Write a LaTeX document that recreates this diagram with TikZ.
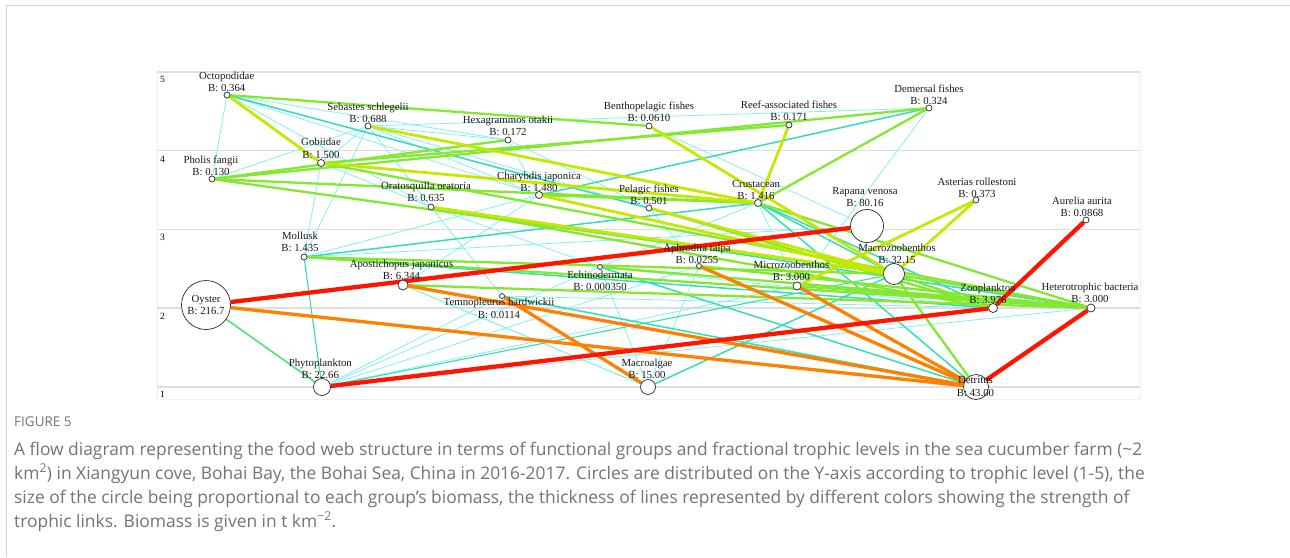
\documentclass[tikz,border=0pt]{standalone}
\usepackage{fontspec}
\setmainfont{Liberation Serif}
\newfontfamily\capfont{Open Sans}
\usetikzlibrary{calc}
\pgfdeclarelayer{bg}
\pgfdeclarelayer{edges}
\pgfsetlayers{bg,edges,main}
\definecolor{cRed}{RGB}{255,20,0}
\definecolor{cOra}{RGB}{255,128,0}
\definecolor{cYg}{RGB}{196,232,0}
\definecolor{cLg}{RGB}{130,232,50}
\definecolor{cGr}{RGB}{70,230,120}
\definecolor{cTl}{RGB}{50,222,180}
\definecolor{cCy}{RGB}{130,240,240}
\definecolor{grid}{RGB}{222,222,222}
\definecolor{capgray}{RGB}{115,115,115}
\newcommand\grplab[6]{% node, dx, dy (baseline of value line), name, value, spacing
  \node[lbl] (#1-n) at ($(#1)+(#2,#3-#6)$) {#4};
  \node[lbl] (#1-v) at ($(#1)+(#2,#3)$) {B: #5};}
\begin{document}
\begin{tikzpicture}[x=1pt,y=-1pt,
  grp/.style={circle,draw=black!85,fill=white,line width=0.7pt,inner sep=0pt,minimum size=#1},
  lbl/.style={font=\fontsize{10.8}{12}\selectfont,anchor=base,inner sep=0pt,text=black!90},
  tick/.style={font=\fontsize{9.5}{10}\selectfont,anchor=base west,inner sep=0pt},
  redl/.style={draw=cRed,line width=4.3pt},
  oral/.style={draw=cOra,line width=3.3pt},
  ygl/.style={draw=cYg,line width=2.8pt},
  lgl/.style={draw=cLg,line width=2.3pt},
  grl/.style={draw=cGr,line width=1.9pt},
  tll/.style={draw=cTl,line width=1.5pt},
  cyl/.style={draw=cCy,line width=0.8pt},
  capt/.style={font=\capfont\fontsize{17.4}{20}\selectfont,text=capgray,anchor=base west,inner sep=0pt}]
\useasboundingbox (0,0) rectangle (1290,557);
% outer card frame
\draw[gray!35,line width=1.3pt] (6.5,557) -- (6.5,5.5) -- (1290,5.5);
% plot frame and grid
\begin{pgfonlayer}{bg}
\draw[gray!12,line width=0.8pt] (157,72) rectangle (1140,399);
\foreach \yy in {72,150.5,229.5,308,387}
  \draw[grid,line width=1.5pt] (157,\yy) -- (1140,\yy);
\end{pgfonlayer}
\node[tick] (t5) at (160,82.5) {5};
\node[tick] (t4) at (160,162.3) {4};
\node[tick] (t3) at (160,240.3) {3};
\node[tick] (t2) at (160,319.5) {2};
\node[tick] (t1) at (160,397.8) {1};
% groups
\node[grp=6pt] (oct) at (227,95) {};
\node[grp=6pt] (seb) at (368,126) {};
\node[grp=6pt] (hex) at (508,140) {};
\node[grp=7pt] (gob) at (321,163) {};
\node[grp=6pt] (pho) at (212,179) {};
\node[grp=6pt] (ora) at (431,207) {};
\node[grp=7pt] (cha) at (539,195) {};
\node[grp=6pt] (ben) at (649,126) {};
\node[grp=6pt] (ree) at (789,125) {};
\node[grp=6pt] (dem) at (929,108) {};
\node[grp=7pt] (cru) at (758,203) {};
\node[grp=6pt] (pel) at (649,208) {};
\node[grp=33pt] (rap) at (867,226) {};
\node[grp=6pt] (ast) at (976,200) {};
\node[grp=6pt] (aur) at (1086,220) {};
\node[grp=21pt] (maz) at (894,274) {};
\node[grp=9pt] (zoo) at (993,308) {};
\node[grp=8pt] (bac) at (1091,308) {};
\node[grp=25pt] (det) at (976,387) {};
\node[grp=6pt] (mol) at (304,257) {};
\node[grp=10pt] (apo) at (403,285) {};
\node[grp=49pt] (oys) at (206,305) {};
\node[grp=5pt] (tem) at (502,296) {};
\node[grp=17pt] (phy) at (322,387) {};
\node[grp=5pt] (ech) at (600,267) {};
\node[grp=5pt] (aph) at (699,266) {};
\node[grp=8pt] (mic) at (797,286) {};
\node[grp=15pt] (alg) at (648,387) {};
% edges
\begin{pgfonlayer}{edges}
\foreach \a/\b in {oct/pho,oct/ora,oct/cha,oct/pel,oct/hex,seb/gob,seb/hex,seb/ora,seb/cha,seb/pel,seb/mol,
  hex/cha,hex/pel,dem/seb,dem/mic,ben/rap,gob/ora,gob/mol,pho/seb,ora/ech,ora/tem,cha/apo,
  cha/mol,pel/aph,cru/mic,cru/ech,phy/ech,phy/aph,phy/tem,phy/mic,phy/bac,
  alg/ech,alg/tem,alg/aph,alg/apo,apo/alg,ech/zoo,tem/zoo,rap/mol,maz/ora}
  \draw[cyl] (\a) -- (\b);
\draw[draw=cTl,line width=1.1pt] (phy) -- (maz);
\draw[draw=cTl,line width=1.1pt] (mol) -- (phy);
\foreach \a/\b in {oct/maz,mol/cru,alg/maz,ech/det,cha/dem,cru/zoo,cru/maz,cru/det,tem/det,mol/zoo,ora/bac}
  \draw[tll] (\a) -- (\b);
\draw[draw=cGr,line width=1.6pt] (oys) -- (phy);
\foreach \a/\b in {oct/ben,pho/dem,gob/ree,pho/hex,pho/cru,pho/maz,cha/cru,mol/maz,mol/bac,ech/bac,
  maz/det,maz/bac,maz/zoo,cru/bac,apo/bac,aph/bac,mic/bac,pel/zoo,gob/bac,ora/zoo,dem/cru}
  \draw[lgl] (\a) -- (\b);
\foreach \a/\b in {oct/gob,seb/cru,gob/cru,ora/maz,ben/maz,ree/cru,ast/mic,ast/maz,pel/maz,cha/maz}
  \draw[ygl] (\a) -- (\b);
\foreach \a/\b in {oys/det,apo/det,tem/alg,aph/det,mic/det}
  \draw[oral] (\a) -- (\b);
\foreach \a/\b in {oys/rap,phy/zoo,det/bac,zoo/aur}
  \draw[redl] (\a) -- (\b);
\end{pgfonlayer}
% labels
\grplab{oct}{-0.3}{-3.4}{Octopodidae}{0.364}{12.2}
\grplab{seb}{0}{-3.4}{Sebastes schlegelii}{0.688}{12.2}
\grplab{hex}{0}{-4.4}{Hexagrammos otakii}{0.172}{12.2}
\grplab{gob}{0}{-5}{Gobiidae}{1.500}{12.2}
\grplab{pho}{-1}{-3.4}{Pholis fangii}{0.130}{12.2}
\grplab{ora}{-5}{-5.4}{Oratosquilla oratoria}{0.635}{12.2}
\grplab{cha}{0}{-3.4}{Charybdis japonica}{1.480}{12.2}
\grplab{ben}{0}{-4.4}{Benthopelagic fishes}{0.0610}{12.2}
\grplab{ree}{0}{-4.4}{Reef-associated fishes}{0.171}{12.2}
\grplab{dem}{0}{-3.4}{Demersal fishes}{0.324}{12.2}
\grplab{cru}{-2}{-3.4}{Crustacean}{1.416}{12.2}
\grplab{pel}{0}{-3.4}{Pelagic fishes}{0.501}{12.2}
\grplab{rap}{-2}{-19.4}{Rapana venosa}{80.16}{12.2}
\grplab{ast}{1}{-2.4}{Asterias rollestoni}{0.373}{12.2}
\grplab{aur}{-4}{-3.4}{Aurelia aurita}{0.0868}{12.2}
\grplab{maz}{3}{-10.4}{Macrozoobenthos}{32.15}{12.2}
\grplab{zoo}{-5}{-4.4}{Zooplankton}{3.976}{12.2}
\grplab{bac}{-1}{-5.4}{Heterotrophic bacteria}{3.000}{12.2}
\grplab{det}{-0.5}{9}{Detritus}{43.00}{12.5}
\grplab{mol}{-4}{-5.7}{Mollusk}{1.435}{12.2}
\grplab{apo}{-1.5}{-5.4}{Apostichopus japonicus}{6.344}{12.2}
\grplab{oys}{0}{9.3}{Oyster}{216.7}{11.8}
\grplab{tem}{-3}{22}{Temnopleurus hardwickii}{0.0114}{13}
\grplab{phy}{-1.7}{-8.7}{Phytoplankton}{22.66}{12.3}
\grplab{ech}{0}{23.6}{Echinodermata}{0.000350}{12.5}
\grplab{aph}{-2}{-2.4}{Aphrodita talpa}{0.0255}{12.3}
\grplab{mic}{-5.5}{-5.7}{Microzoobenthos}{3.000}{12.2}
\grplab{alg}{-1}{-8.3}{Macroalgae}{15.00}{12}
% caption
\node[anchor=base west,inner sep=0pt,font=\capfont\fontsize{13.5}{15}\selectfont,text=capgray] (fig) at (14,426) {FIGURE 5};
\node[capt] (c1) at (14,455) {A flow diagram representing the food web structure in terms of functional groups and fractional trophic levels in the sea cucumber farm (\textasciitilde2};
\node[capt] (c2) at (14,479) {km\textsuperscript{2}) in Xiangyun cove, Bohai Bay, the Bohai Sea, China in 2016-2017. Circles are distributed on the Y-axis according to trophic level (1-5), the};
\node[capt] (c3) at (14,503) {size of the circle being proportional to each group’s biomass, the thickness of lines represented by different colors showing the strength of};
\node[capt] (c4) at (14,527) {trophic links. Biomass is given in t km\textsuperscript{−2}.};
\end{tikzpicture}
\end{document}
